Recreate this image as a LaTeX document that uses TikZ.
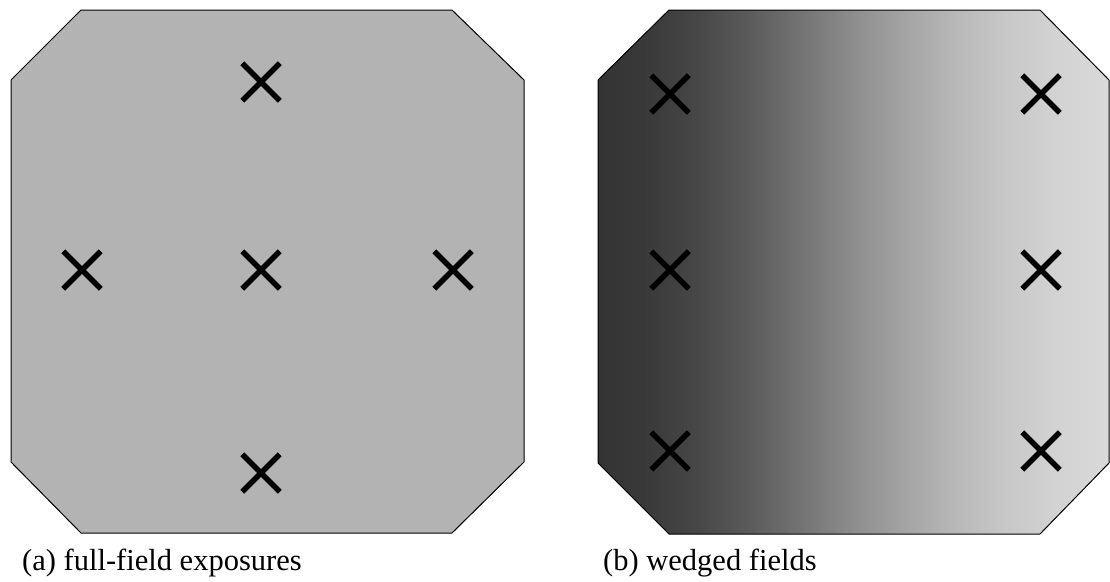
\documentclass[tikz,border=0pt]{standalone}
\usepackage{fontspec}
\setmainfont{Liberation Serif}
\usetikzlibrary{shapes.misc}
\definecolor{panelgray}{RGB}{179,179,179}
\definecolor{g0}{RGB}{51,51,51}
\definecolor{g1}{RGB}{58,58,58}
\definecolor{g2}{RGB}{72,72,72}
\definecolor{g3}{RGB}{92,92,92}
\definecolor{g4}{RGB}{116,116,116}
\definecolor{g5}{RGB}{141,141,141}
\definecolor{g6}{RGB}{164,164,164}
\definecolor{g7}{RGB}{184,184,184}
\definecolor{g8}{RGB}{200,200,200}
\definecolor{g9}{RGB}{211,211,211}
\definecolor{g10}{RGB}{217,217,217}
\pgfdeclarehorizontalshading{wedge}{100bp}{color(0bp)=(g0); color(25bp)=(g0); color(30bp)=(g1); color(35bp)=(g2); color(40bp)=(g3); color(45bp)=(g4); color(50bp)=(g5); color(55bp)=(g6); color(60bp)=(g7); color(65bp)=(g8); color(70bp)=(g9); color(75bp)=(g10); color(100bp)=(g10)}
\tikzset{
  panel/.style={draw=black, line width=1pt},
  xmark/.style={cross out, draw=black, line width=5.5pt, minimum size=32pt, inner sep=0pt},
  caption/.style={anchor=base west, inner sep=0pt, font=\fontsize{30.5}{36}\selectfont}
}
\begin{document}
\begin{tikzpicture}[x=1pt,y=-1pt]
\useasboundingbox (0,0) rectangle (1110,581);
% panel (a)
\filldraw[panel, fill=panelgray] (81,10) -- (452,10) -- (524,80) -- (524,462) -- (452,533) -- (81,533) -- (11,462) -- (11,80) -- cycle;
\node[xmark] (a1) at (261,82) {};
\node[xmark] (a2) at (82,270) {};
\node[xmark] (a3) at (261,270) {};
\node[xmark] (a4) at (453,270) {};
\node[xmark] (a5) at (261,473) {};
\node[caption] (capa) at (22,570) {(a) full-field exposures};
% panel (b)
\shade[shading=wedge] (669,10) -- (1040,10) -- (1109,80) -- (1109,463) -- (1040,534) -- (669,534) -- (598,463) -- (598,80) -- cycle;
\draw[panel] (669,10) -- (1040,10) -- (1109,80) -- (1109,463) -- (1040,534) -- (669,534) -- (598,463) -- (598,80) -- cycle;
\node[xmark] (b1) at (670,94) {};
\node[xmark] (b2) at (1041,94) {};
\node[xmark] (b3) at (670,270) {};
\node[xmark] (b4) at (1041,270) {};
\node[xmark] (b5) at (670,451) {};
\node[xmark] (b6) at (1041,451) {};
\node[caption] (capb) at (603,570) {(b) wedged fields};
\end{tikzpicture}
\end{document}
